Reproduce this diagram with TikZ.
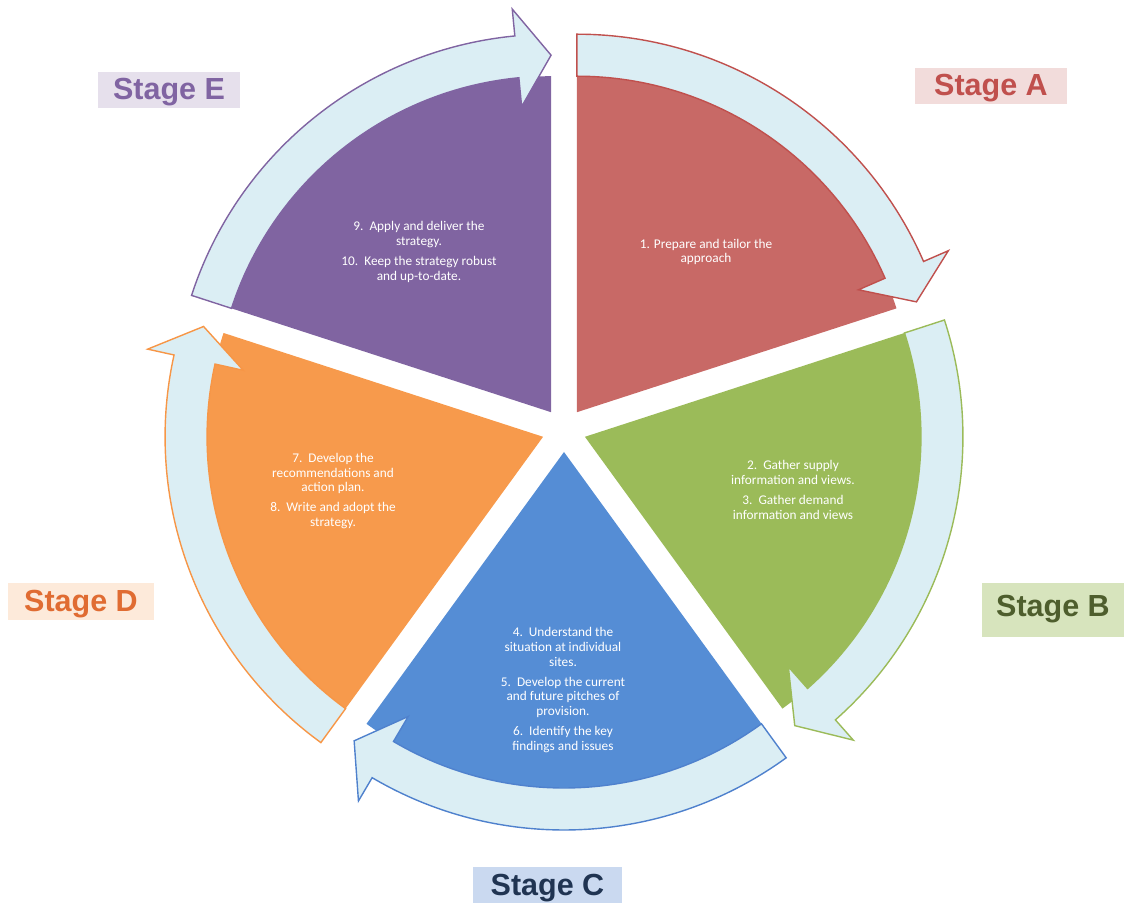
\documentclass[tikz,border=0pt]{standalone}
\usepackage{fontspec}
\setmainfont{Carlito}
\newfontfamily\stagefont{Liberation Sans}
\usetikzlibrary{positioning}

\definecolor{redslice}{HTML}{C86966}
\definecolor{greenslice}{HTML}{9BBB59}
\definecolor{blueslice}{HTML}{558DD5}
\definecolor{orangeslice}{HTML}{F79A4C}
\definecolor{purpleslice}{HTML}{8064A1}
\definecolor{redline}{HTML}{C0504D}
\definecolor{greenline}{HTML}{9BBB59}
\definecolor{blueline}{HTML}{4F81CD}
\definecolor{orangeline}{HTML}{F79646}
\definecolor{purpleline}{HTML}{8064A2}
\definecolor{ringfill}{HTML}{DBEEF4}

\begin{document}
\begin{tikzpicture}[x=1pt, y=1pt,
    ring/.style={fill=ringfill, line width=1.4pt, line join=miter},
    steptext/.style={text=white, align=center, font=\fontsize{13.3}{14.6}\selectfont},
    stagebox/.style={font=\stagefont\bfseries\fontsize{30.5}{32}\selectfont, inner xsep=4pt, inner ysep=4pt, text height=24pt, text depth=4pt}]
  \useasboundingbox (-564,-474) rectangle (560,430);

  % pie slices, each pushed out along its middle
  \fill[redslice, shift={(54:22)}] (0,0) -- (90:336) arc[start angle=90, end angle=18, radius=336] -- cycle;
  \fill[greenslice, shift={(-18:22)}] (0,0) -- (18:336) arc[start angle=18, end angle=-54, radius=336] -- cycle;
  \fill[blueslice, shift={(-90:22)}] (0,0) -- (-54:336) arc[start angle=-54, end angle=-126, radius=336] -- cycle;
  \fill[orangeslice, shift={(198:22)}] (0,0) -- (234:336) arc[start angle=234, end angle=162, radius=336] -- cycle;
  \fill[purpleslice, shift={(126:22)}] (0,0) -- (162:336) arc[start angle=162, end angle=90, radius=336] -- cycle;

  % curved arrows round the slices
  \draw[ring, draw=redline, shift={(54:22)}] (90:378) arc[start angle=90, end angle=23.5, radius=378] -- (23.5:405) -- (18:357) -- (23.5:307) -- (23.5:336) arc[start angle=23.5, end angle=90, radius=336] -- cycle;
  \draw[ring, draw=greenline, shift={(-18:22)}] (18:378) arc[start angle=18, end angle=-48.5, radius=378] -- (-48.5:405) -- (-54:357) -- (-48.5:307) -- (-48.5:336) arc[start angle=-48.5, end angle=18, radius=336] -- cycle;
  \draw[ring, draw=blueline, shift={(-90:22)}] (-54:378) arc[start angle=-54, end angle=-120.5, radius=378] -- (-120.5:405) -- (-126:357) -- (-120.5:307) -- (-120.5:336) arc[start angle=-120.5, end angle=-54, radius=336] -- cycle;
  \draw[ring, draw=orangeline, shift={(198:22)}] (234:378) arc[start angle=234, end angle=167.5, radius=378] -- (167.5:405) -- (162:357) -- (167.5:307) -- (167.5:336) arc[start angle=167.5, end angle=234, radius=336] -- cycle;
  \draw[ring, draw=purpleline, shift={(126:22)}] (162:378) arc[start angle=162, end angle=95.5, radius=378] -- (95.5:405) -- (90:357) -- (95.5:307) -- (95.5:336) arc[start angle=95.5, end angle=162, radius=336] -- cycle;

  % steps
  \node[steptext] (prepare) at (142,178) {1. Prepare and tailor the\\approach};
  \node[steptext] (gather) at (229,-60) {2.\ \ Gather supply\\information and views.\\[5.5pt]3.\ \ Gather demand\\information and views};
  \node[steptext] (sites) at (-1,-260) {4.\ \ Understand the\\situation at individual\\sites.\\[5.5pt]5.\ \ Develop the current\\and future pitches of\\provision.\\[5.5pt]6.\ \ Identify the key\\findings and issues};
  \node[steptext] (develop) at (-231,-61) {7.\ \ Develop the\\recommendations and\\action plan.\\[5.5pt]8.\ \ Write and adopt the\\strategy.};
  \node[steptext] (apply) at (-145,178) {9.\ \ Apply and deliver the\\strategy.\\[5.5pt]10.\ \ Keep the strategy robust\\and up-to-date.};

  % stage labels
  \node[stagebox, fill=redline!20, text=redline, minimum width=152pt] (stageA) at (427,344) {Stage A};
  \node[stagebox, fill=greenline!40, text=greenline!50!black, minimum width=142pt, text height=29pt, text depth=17pt] (stageB) at (489,-180) {Stage B};
  \node[stagebox, fill=blueline!30, text=blueline!40!black, minimum width=149pt] (stageC) at (-16.5,-455) {Stage C};
  \node[stagebox, fill=orangeline!20, text=orangeline!80!red!90!black, minimum width=146pt] (stageD) at (-483,-171.5) {Stage D};
  \node[stagebox, fill=purpleline!20, text=purpleline, minimum width=142pt] (stageE) at (-395,340) {Stage E};
\end{tikzpicture}
\end{document}
